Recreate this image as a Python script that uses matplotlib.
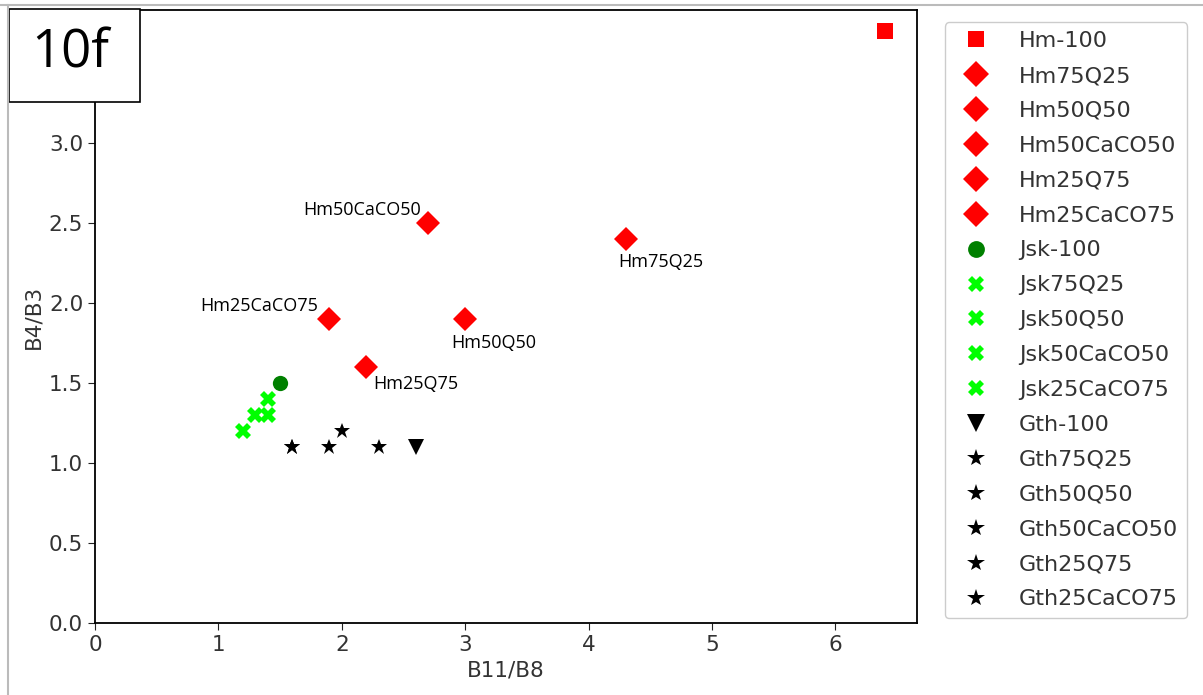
import matplotlib
matplotlib.use("Agg")
import matplotlib.pyplot as plt
from matplotlib.lines import Line2D
from matplotlib.patches import Rectangle

# Sample names and their band ratios (B11/B8, B4/B3)
names = ["Hm-100", "Hm75Q25", "Hm50Q50", "Hm50CaCO50", "Hm25Q75", "Hm25CaCO75",
         "Jsk-100", "Jsk75Q25", "Jsk50Q50", "Jsk50CaCO50", "Jsk25CaCO75",
         "Gth-100", "Gth75Q25", "Gth50Q50", "Gth50CaCO50", "Gth25Q75", "Gth25CaCO75"]
b11_b8 = [6.4, 4.3, 3.0, 2.7, 2.2, 1.9,
          1.5, 1.4, 1.3, 1.4, 1.2,
          2.6, 2.3, 1.9, 2.0, 1.6, 1.6]
b4_b3 = [3.7, 2.4, 1.9, 2.5, 1.6, 1.9,
         1.5, 1.4, 1.3, 1.3, 1.2,
         1.1, 1.1, 1.1, 1.2, 1.1, 1.1]
markers = ["s", "D", "D", "D", "D", "D",
           "o", "X", "X", "X", "X",
           "v", "*", "*", "*", "*", "*"]
colors = ["red"] * 6 + ["green"] + ["lime"] * 4 + ["black"] * 6

# which samples get a text label on the plot, and where (offset in points)
labelled = {"Hm75Q25": (-5, -10, "left", "top"),
            "Hm50Q50": (-10, -11, "left", "top"),
            "Hm25Q75": (5, -6, "left", "top"),
            "Hm50CaCO50": (-5, 6, "right", "baseline"),
            "Hm25CaCO75": (-8, 6, "right", "baseline")}

sizes = {"s": 11, "D": 12, "o": 11, "X": 11, "v": 12, "*": 12}

fig = plt.figure(figsize=(12.03, 6.95), dpi=100)
ax = fig.add_axes([0.079, 0.1036, 0.683, 0.882])

for n, x, y, m, c in zip(names, b11_b8, b4_b3, markers, colors):
    ax.plot(x, y, linestyle="none", marker=m, color=c, markersize=sizes[m],
            markeredgewidth=0, label=n)
    if n in labelled:
        dx, dy, ha, va = labelled[n]
        ax.annotate(n, (x, y), xytext=(dx, dy), textcoords="offset points",
                    ha=ha, va=va, fontsize=13, family="Open Sans")

ax.set_xlim(0, 6.66)
ax.set_ylim(0, 3.83)
ax.set_xticks(range(7))
ax.set_yticks([0, 0.5, 1.0, 1.5, 2.0, 2.5, 3.0])
ax.tick_params(labelsize=15.5, length=5, color="#222222", labelcolor="#333333")
ax.set_xlabel("B11/B8", fontsize=15.5, color="#333333")
ax.set_ylabel("B4/B3", fontsize=15.5, color="#333333")
for s in ax.spines.values():
    s.set_linewidth(1.3)

leg = ax.legend(loc="upper left", bbox_to_anchor=(1.034, 0.980), fontsize=16,
                labelspacing=0.67, handletextpad=0.95, borderpad=0.4,
                borderaxespad=0, framealpha=1, edgecolor="#cccccc", fancybox=True,
                markerscale=1.1)
for t in leg.get_texts():
    t.set_color("#333333")

# screenshot frame lines and the "10f" panel tag
fig.add_artist(Line2D([0, 1], [0.993, 0.993], transform=fig.transFigure,
                      color="#bbbbbb", lw=1.5))
fig.add_artist(Line2D([0.007, 0.007], [0, 0.993], transform=fig.transFigure,
                      color="#bbbbbb", lw=1.5))
fig.add_artist(Rectangle((0.0075, 0.853), 0.109, 0.134, transform=fig.transFigure,
                         facecolor="white", edgecolor="black", lw=1.2))
fig.text(0.058, 0.922, "10f", fontsize=38, family="Open Sans",
         ha="center", va="center")

fig.savefig("out.png", dpi=100)
